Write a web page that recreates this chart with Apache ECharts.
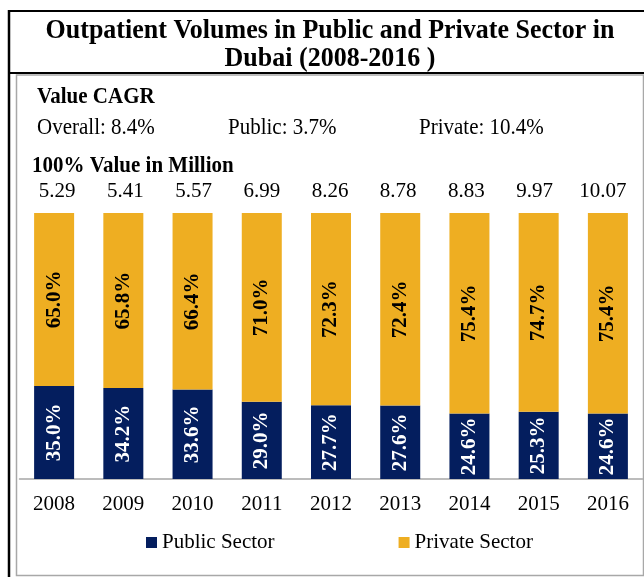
<!DOCTYPE html>
<html>
<head>
<meta charset="utf-8">
<script src="https://cdn.jsdelivr.net/npm/echarts@6/dist/echarts.min.js"></script>
<style>
  html, body { margin: 0; padding: 0; background: #fff; }
  #chart { width: 644px; height: 577px; }
</style>
</head>
<body>
<div id="chart"></div>
<script>
// Outpatient volumes, Dubai 2008-2016: share of public vs private sector
const years = ['2008', '2009', '2010', '2011', '2012', '2013', '2014', '2015', '2016'];
const publicShare = [35.0, 34.2, 33.6, 29.0, 27.7, 27.6, 24.6, 25.3, 24.6];
const privateShare = [65.0, 65.8, 66.4, 71.0, 72.3, 72.4, 75.4, 74.7, 75.4];
const totalMillions = [5.29, 5.41, 5.57, 6.99, 8.26, 8.78, 8.83, 9.97, 10.07];
const cagrLabels = ['Overall: 8.4%', 'Public: 3.7%', 'Private: 10.4%'];
const titleLines = ['Outpatient Volumes in Public and Private Sector in', 'Dubai (2008-2016 )'];

const SERIF = '"Liberation Serif", "Times New Roman", serif';
const NAVY = '#041e5e';
const GOLD = '#eeae22';

const chart = echarts.init(document.getElementById('chart'), null, { renderer: 'canvas' });

const cagrX = [37, 228, 419];

const option = {
  animation: false,
  backgroundColor: '#fff',
  textStyle: { fontFamily: SERIF },
  grid: [
    { left: 19.5, right: 1.5, top: 213, bottom: 98 },
    { left: 23, right: 7, top: 191, height: 1 }
  ],
  xAxis: [
    {
      type: 'category',
      gridIndex: 0,
      data: years,
      axisLine: { lineStyle: { color: '#a6a6a6', width: 1.5 } },
      axisTick: { show: false },
      axisLabel: { color: '#000', fontFamily: SERIF, fontSize: 21, margin: 15 }
    },
    {
      type: 'category',
      gridIndex: 1,
      position: 'top',
      data: totalMillions.map(v => v.toFixed(2)),
      axisLine: { show: false },
      axisTick: { show: false },
      axisLabel: { color: '#000', fontFamily: SERIF, fontSize: 21, margin: 0, verticalAlign: 'middle' }
    }
  ],
  yAxis: [
    { type: 'value', gridIndex: 0, min: 0, max: 100, show: false },
    { type: 'value', gridIndex: 1, show: false }
  ],
  legend: {
    left: 141,
    top: 527,
    itemWidth: 11,
    itemHeight: 11,
    itemGap: 124,
    icon: 'rect',
    textStyle: { color: '#000', fontFamily: SERIF, fontSize: 21 },
    data: ['Public Sector', 'Private Sector']
  },
  series: [
    {
      name: 'Public Sector',
      type: 'bar',
      stack: 'share',
      barWidth: 40,
      data: publicShare,
      itemStyle: { color: NAVY },
      label: {
        show: true,
        position: 'inside',
        rotate: 90,
        color: '#fff',
        fontFamily: SERIF,
        fontWeight: 'bold',
        fontSize: 21,
        formatter: p => p.value.toFixed(1) + '%'
      }
    },
    {
      name: 'Private Sector',
      type: 'bar',
      stack: 'share',
      barWidth: 40,
      data: privateShare,
      itemStyle: { color: GOLD },
      label: {
        show: true,
        position: 'inside',
        rotate: 90,
        color: '#000',
        fontFamily: SERIF,
        fontWeight: 'bold',
        fontSize: 21,
        formatter: p => p.value.toFixed(1) + '%'
      }
    }
  ],
  graphic: [
    // inner panel frame
    { type: 'rect', shape: { x: 16.5, y: 75, width: 627, height: 500.5 },
      style: { fill: 'none', stroke: '#a8a8a8', lineWidth: 1.5 }, silent: true },
    // outer black frame and title divider
    { type: 'line', shape: { x1: 9, y1: 10, x2: 9, y2: 577 }, style: { stroke: '#000', lineWidth: 2.5 } },
    { type: 'line', shape: { x1: 8, y1: 11, x2: 644, y2: 11 }, style: { stroke: '#000', lineWidth: 2 } },
    { type: 'line', shape: { x1: 8, y1: 73, x2: 644, y2: 73 }, style: { stroke: '#000', lineWidth: 2 } },
    // title
    { type: 'text', x: 330, y: 31, scaleY: 1.05, style: { text: titleLines[0], font: 'bold 26px ' + SERIF, fill: '#000', textAlign: 'center', textVerticalAlign: 'middle' } },
    { type: 'text', x: 330, y: 59, scaleY: 1.05, style: { text: titleLines[1], font: 'bold 26px ' + SERIF, fill: '#000', textAlign: 'center', textVerticalAlign: 'middle' } },
    // CAGR block
    { type: 'text', x: 37, y: 97, scaleY: 1.1, style: { text: 'Value CAGR', font: 'bold 21px ' + SERIF, fill: '#000', textVerticalAlign: 'middle' } },
    ...cagrLabels.map((t, i) => ({
      type: 'text', x: cagrX[i], y: 128, scaleY: 1.1,
      style: { text: t, font: '21px ' + SERIF, fill: '#000', textVerticalAlign: 'middle' }
    })),
    { type: 'text', x: 32, y: 166, scaleY: 1.1, style: { text: '100% Value in Million', font: 'bold 21px ' + SERIF, fill: '#000', textVerticalAlign: 'middle' } }
  ]
};

chart.setOption(option);
</script>
</body>
</html>
